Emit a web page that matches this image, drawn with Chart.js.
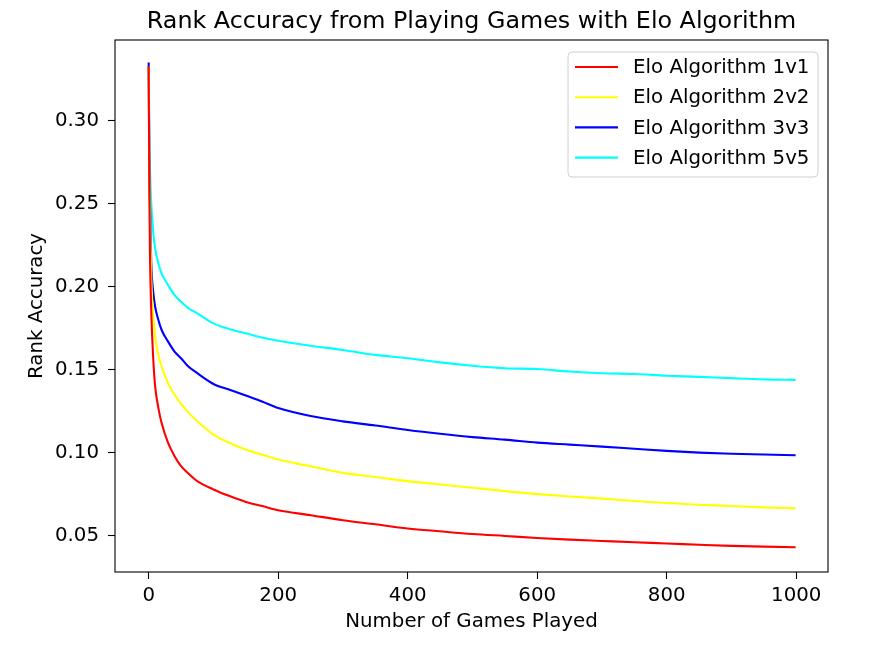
<!DOCTYPE html>
<html>
<head>
<meta charset="utf-8">
<script src="https://cdn.jsdelivr.net/npm/chart.js@4.4.0/dist/chart.umd.min.js"></script>
<style>
  html, body { margin: 0; padding: 0; background: #fff; }
  #wrap { width: 881px; height: 646px; }
</style>
</head>
<body>
<div id="wrap"><canvas id="eloChart" width="881" height="646"></canvas></div>
<script>
// number of games played (x values)
const games = [0, 1, 2, 4, 7, 10, 15, 20, 30, 40, 50, 60, 75, 100, 125, 150, 175, 200,
  250, 300, 350, 400, 450, 500, 550, 600, 650, 700, 750, 800, 850, 900, 950, 999];

const elo1v1 = [0.333, 0.260, 0.220, 0.185, 0.157, 0.140, 0.127, 0.118, 0.106, 0.098, 0.092, 0.088, 0.083, 0.078, 0.074, 0.0705, 0.068, 0.0655,
  0.0625, 0.0595, 0.057, 0.0545, 0.0528, 0.0512, 0.0500, 0.0488, 0.0478, 0.0470, 0.0462, 0.0455, 0.0447, 0.0440, 0.0436, 0.0432];
const elo2v2 = [0.333, 0.270, 0.240, 0.205, 0.182, 0.170, 0.159, 0.152, 0.142, 0.135, 0.1295, 0.125, 0.119, 0.111, 0.106, 0.102, 0.099, 0.096,
  0.092, 0.088, 0.0855, 0.083, 0.081, 0.079, 0.077, 0.0752, 0.0738, 0.0725, 0.071, 0.0698, 0.0688, 0.068, 0.0672, 0.0666];
const elo3v3 = [0.335, 0.280, 0.250, 0.214, 0.197, 0.188, 0.180, 0.174, 0.167, 0.161, 0.157, 0.1525, 0.148, 0.1415, 0.138, 0.1345, 0.131, 0.127,
  0.1222, 0.119, 0.1165, 0.1138, 0.1115, 0.1095, 0.108, 0.1062, 0.105, 0.1038, 0.1025, 0.1012, 0.1002, 0.0995, 0.099, 0.0986];
const elo5v5 = [0.333, 0.290, 0.270, 0.250, 0.233, 0.223, 0.214, 0.208, 0.201, 0.195, 0.191, 0.1875, 0.184, 0.178, 0.1745, 0.172, 0.1695, 0.1675,
  0.1645, 0.162, 0.159, 0.157, 0.1545, 0.1525, 0.151, 0.1505, 0.149, 0.148, 0.1475, 0.1465, 0.1458, 0.145, 0.1443, 0.144];

const seriesNames = ['Elo Algorithm 1v1', 'Elo Algorithm 2v2', 'Elo Algorithm 3v3', 'Elo Algorithm 5v5'];
const seriesColors = ['#ff0000', '#ffff00', '#0000ff', '#00ffff'];
const chartTitle = 'Rank Accuracy from Playing Games with Elo Algorithm';

const FONT = "'DejaVu Sans', 'Liberation Sans', sans-serif";
const TEXT_SIZE = 19.8;

function toPoints(values) {
  return values.map((v, i) => ({ x: games[i], y: v }));
}

// matplotlib-like frame, title centred over the axes, legend in upper right
const framePlugin = {
  id: 'frame',
  afterDraw(chart) {
    const ctx = chart.ctx;
    const a = chart.chartArea;
    ctx.save();
    ctx.strokeStyle = '#000';
    ctx.lineWidth = 1.1;
    ctx.strokeRect(a.left, a.top, a.right - a.left, a.bottom - a.top);

    // title
    ctx.fillStyle = '#000';
    ctx.font = '23.8px ' + FONT;
    ctx.textAlign = 'center';
    ctx.textBaseline = 'middle';
    ctx.fillText(chartTitle, (a.left + a.right) / 2, 21.5);

    // legend
    const bx = 568, by = 52, bw = 250, bh = 125, r = 4;
    ctx.fillStyle = 'rgba(255,255,255,0.8)';
    ctx.strokeStyle = '#d0d0d0';
    ctx.lineWidth = 1;
    ctx.beginPath();
    ctx.moveTo(bx + r, by);
    ctx.arcTo(bx + bw, by, bx + bw, by + bh, r);
    ctx.arcTo(bx + bw, by + bh, bx, by + bh, r);
    ctx.arcTo(bx, by + bh, bx, by, r);
    ctx.arcTo(bx, by, bx + bw, by, r);
    ctx.closePath();
    ctx.fill();
    ctx.stroke();

    ctx.font = TEXT_SIZE + 'px ' + FONT;
    ctx.textBaseline = 'middle';
    ctx.textAlign = 'left';
    chart.data.datasets.forEach((ds, i) => {
      const y = 67 + i * 30.2;
      ctx.strokeStyle = ds.borderColor;
      ctx.lineWidth = 2.1;
      ctx.beginPath();
      ctx.moveTo(575, y);
      ctx.lineTo(618, y);
      ctx.stroke();
      ctx.fillStyle = '#000';
      ctx.fillText(ds.label, 633, y + 1);
    });
    ctx.restore();
  }
};

const ctx = document.getElementById('eloChart').getContext('2d');
const eloChart = new Chart(ctx, {
  type: 'line',
  data: {
    datasets: [elo1v1, elo2v2, elo3v3, elo5v5].map((vals, i) => ({
      label: seriesNames[i],
      data: toPoints(vals),
      borderColor: seriesColors[i],
      backgroundColor: seriesColors[i],
      borderWidth: 2.1,
      pointRadius: 0,
      cubicInterpolationMode: 'monotone',
      fill: false
    }))
  },
  options: {
    responsive: false,
    animation: false,
    layout: { padding: { left: 0, right: 53, top: 40, bottom: 0 } },
    plugins: {
      legend: { display: false },
      tooltip: { enabled: false },
      title: { display: false }
    },
    scales: {
      x: {
        type: 'linear',
        min: -52,
        max: 1049,
        border: { display: false },
        grid: { drawOnChartArea: false, drawTicks: true, tickLength: 7, tickWidth: 1.1, tickColor: '#000' },
        ticks: {
          stepSize: 200,
          includeBounds: false,
          color: '#000',
          padding: 5,
          maxRotation: 0,
          font: { family: FONT, size: TEXT_SIZE },
          callback: (v) => String(v)
        },
        title: {
          display: true,
          text: 'Number of Games Played',
          color: '#000',
          font: { family: FONT, size: TEXT_SIZE },
          padding: { top: 0, bottom: 12 }
        },
        afterFit(scale) { scale.height = 74; }
      },
      y: {
        type: 'linear',
        min: 0.0283,
        max: 0.3486,
        border: { display: false },
        grid: { drawOnChartArea: false, drawTicks: true, tickLength: 7, tickWidth: 1.1, tickColor: '#000' },
        ticks: {
          stepSize: 0.05,
          includeBounds: false,
          color: '#000',
          padding: 9,
          font: { family: FONT, size: TEXT_SIZE },
          callback: (v) => v.toFixed(2)
        },
        title: {
          display: true,
          text: 'Rank Accuracy',
          color: '#000',
          font: { family: FONT, size: TEXT_SIZE },
          padding: { top: 25, bottom: 0 }
        },
        afterFit(scale) { scale.width = 115; }
      }
    }
  },
  plugins: [framePlugin]
});
</script>
</body>
</html>
